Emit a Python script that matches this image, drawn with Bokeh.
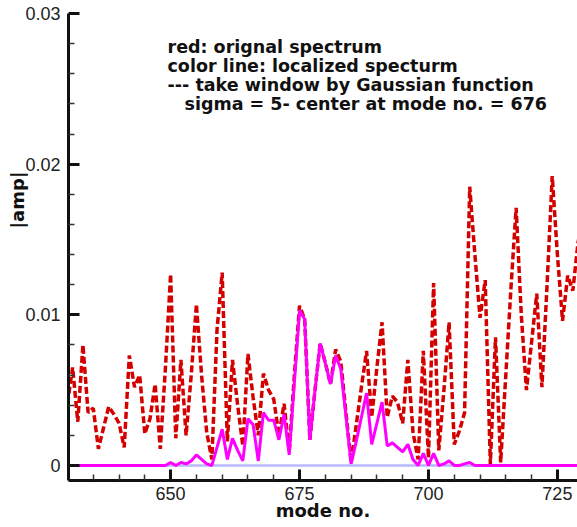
from bokeh.plotting import figure
from bokeh.models import Range1d, FixedTicker, CustomJSTickFormatter, Label
from bokeh.embed import file_html
from bokeh.resources import INLINE

# ---- data -------------------------------------------------------------
mode_no = list(range(630, 731))

orig_spectrum = [
    0.0041, 0.0065, 0.0029, 0.0080, 0.0035, 0.0038, 0.0011, 0.0025, 0.0039, 0.0034,  # 630-639
    0.0028, 0.0012, 0.0073, 0.0052, 0.0060, 0.0021, 0.0031, 0.0054, 0.0011, 0.0065,  # 640-649
    0.0127, 0.0018, 0.0070, 0.0020, 0.0060, 0.0107, 0.0060, 0.0022, 0.0004, 0.0090,  # 650-659
    0.0128, 0.0016, 0.0070, 0.0040, 0.0013, 0.0074, 0.0045, 0.0020, 0.0061, 0.0050,  # 660-669
    0.0044, 0.0020, 0.0041, 0.0009, 0.0060, 0.0106, 0.0097, 0.0017, 0.0050, 0.0081,  # 670-679
    0.0068, 0.0054, 0.0077, 0.0069, 0.0035, 0.0002, 0.0027, 0.0052, 0.0076, 0.0032,  # 680-689
    0.0065, 0.0095, 0.0032, 0.0046, 0.0042, 0.0028, 0.0070, 0.0022, 0.0004, 0.0076,  # 690-699
    0.0005, 0.0121, 0.0010, 0.0050, 0.0095, 0.0014, 0.0023, 0.0035, 0.0185, 0.0140,  # 700-709
    0.0098, 0.0123, 0.0001, 0.0085, 0.0002, 0.0060, 0.0118, 0.0171, 0.0100, 0.0050,  # 710-719
    0.0082, 0.0114, 0.0052, 0.0120, 0.0192, 0.0140, 0.0096, 0.0126, 0.0116, 0.0148,  # 720-729
    0.0165,                                                                          # 730
]

local_spectrum = [
    0.0, 0.0, 0.0, 0.0, 0.0, 0.0, 0.0, 0.0, 0.0, 0.0,                                # 630-639
    0.0, 0.0, 0.0, 0.0, 0.0, 0.0, 0.0, 0.0, 0.0, 0.0,                                # 640-649
    0.0002, 0.0000, 0.0002, 0.0001, 0.0003, 0.0007, 0.0004, 0.0001, 0.0000, 0.0012,  # 650-659
    0.0024, 0.0004, 0.0018, 0.0010, 0.0003, 0.0031, 0.0027, 0.0003, 0.0035, 0.0030,  # 660-669
    0.0030, 0.0017, 0.0034, 0.0007, 0.0055, 0.0103, 0.0097, 0.0017, 0.0050, 0.0081,  # 670-679
    0.0068, 0.0054, 0.0073, 0.0064, 0.0033, 0.0001, 0.0016, 0.0032, 0.0048, 0.0014,  # 680-689
    0.0028, 0.0042, 0.0013, 0.0015, 0.0012, 0.0009, 0.0014, 0.0004, 0.0000, 0.0008,  # 690-699
    0.0000, 0.0008, 0.0000, 0.0001, 0.0003, 0.0000, 0.0000, 0.0001, 0.0002, 0.0000,  # 700-709
    0.0, 0.0, 0.0, 0.0, 0.0, 0.0, 0.0, 0.0, 0.0, 0.0,                                # 710-719
    0.0, 0.0, 0.0, 0.0, 0.0, 0.0, 0.0, 0.0, 0.0, 0.0,                                # 720-729
    0.0,                                                                             # 730
]

zero_line = [0.0] * len(mode_no)

x_major_ticks = [650, 675, 700, 725]
x_minor_ticks = [635, 640, 645, 655, 660, 665, 670, 680, 685, 690, 695, 705, 710, 715, 720]
y_major_ticks = [0.0, 0.01, 0.02, 0.03]
y_minor_ticks = [0.002, 0.004, 0.006, 0.008, 0.012, 0.014, 0.016, 0.018,
                 0.022, 0.024, 0.026, 0.028]

note_lines = [
    "red: orignal spectrum",
    "color line: localized specturm",
    "--- take window by Gaussian function",
    "sigma = 5- center at mode no. = 676",
]

BOLD_FONT = "DejaVu Sans"
TICK_FONT = "Liberation Sans"

# ---- figure -----------------------------------------------------------
p = figure(width=577, height=527,
           x_range=Range1d(630.2, 728.9), y_range=Range1d(-0.001, 0.03),
           output_backend="svg", toolbar_location=None,
           min_border_left=68, min_border_right=0,
           min_border_top=13, min_border_bottom=47)
p.grid.visible = False
p.outline_line_color = None
p.background_fill_color = "white"
p.border_fill_color = "white"

p.line(mode_no, zero_line, line_color="#b8b8ff", line_width=2.5)
p.line(mode_no, orig_spectrum, line_color="#d40000", line_width=3.5, line_dash="7 3")
p.line(mode_no, local_spectrum, line_color="#ff00ff", line_width=3)

for ax in (p.xaxis[0], p.yaxis[0]):
    ax.axis_line_width = 3
    ax.axis_line_color = "#111111"
    ax.major_tick_line_width = 3
    ax.major_tick_line_color = "#111111"
    ax.minor_tick_line_width = 1.5
    ax.minor_tick_line_color = "#333333"
    ax.major_tick_in = 11
    ax.major_tick_out = 0
    ax.minor_tick_in = 6
    ax.minor_tick_out = 0
    ax.major_label_text_font = TICK_FONT
    ax.major_label_text_font_size = "18px"
    ax.major_label_text_color = "#222222"
    ax.axis_label_text_font = BOLD_FONT
    ax.axis_label_text_font_style = "bold"
    ax.axis_label_text_font_size = "18px"
    ax.axis_label_text_color = "#111111"

p.xaxis.ticker = FixedTicker(ticks=x_major_ticks, minor_ticks=x_minor_ticks)
p.yaxis.ticker = FixedTicker(ticks=y_major_ticks, minor_ticks=y_minor_ticks)
p.yaxis.formatter = CustomJSTickFormatter(code="return tick == 0 ? '0' : tick.toFixed(2);")
p.xaxis.major_label_standoff = 6
p.yaxis.major_label_standoff = 8

p.xaxis.axis_label = "mode no."
p.xaxis.axis_label_standoff = -3
# leading no-break spaces lift the rotated title toward the upper part of the axis
p.yaxis.axis_label = "\u00a0" * 15 + "|amp|"
p.yaxis.axis_label_standoff = -6

# note text
note_x = [99, 99, 99, 116]
note_y = [434, 415, 396, 377]
for t, nx, ny in zip(note_lines, note_x, note_y):
    p.add_layout(Label(x=nx, y=ny, x_units="screen", y_units="screen",
                       text=t, text_align="left", text_baseline="alphabetic",
                       text_font=BOLD_FONT, text_font_style="bold",
                       text_font_size="17.5px", text_color="#111111"))

open("out.html", "w").write(file_html(p, INLINE))
